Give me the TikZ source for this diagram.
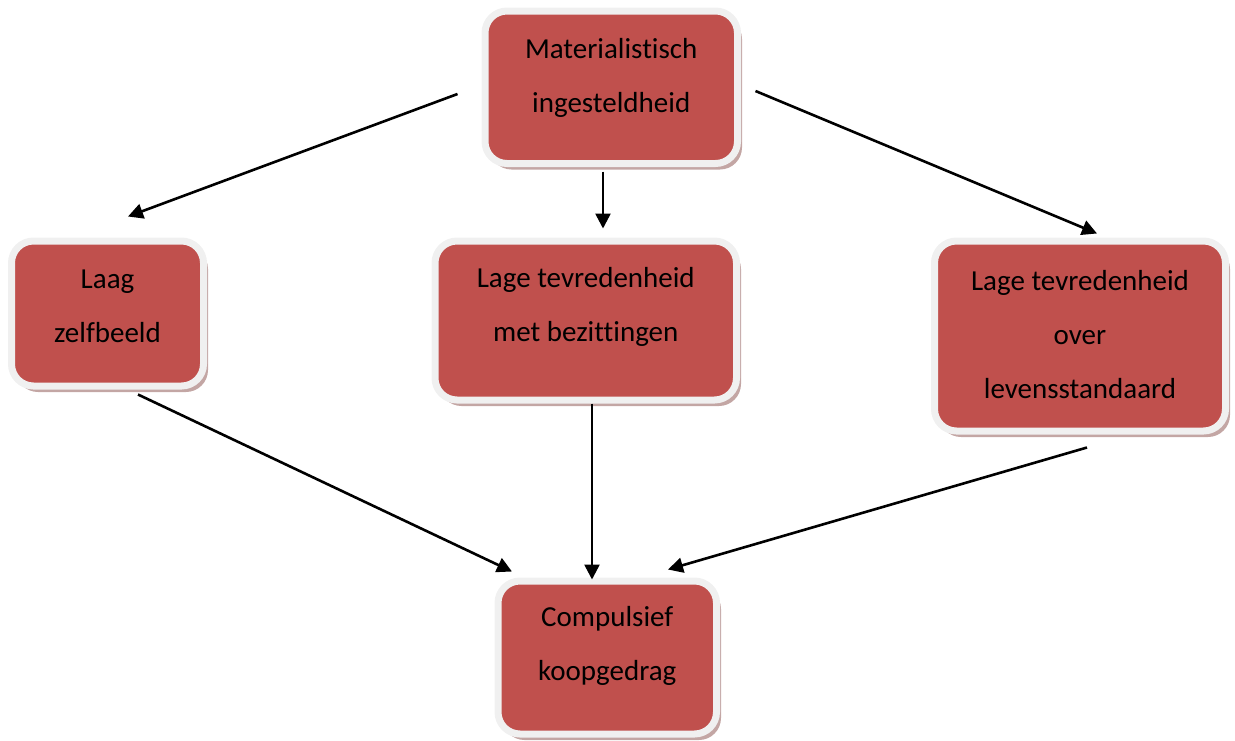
\documentclass[tikz,border=0pt]{standalone}
\usepackage{fontspec}
\setmainfont[Ligatures=NoCommon]{Carlito}
\usetikzlibrary{calc,shadows,arrows.meta}
\definecolor{boxred}{RGB}{192,80,77}
\definecolor{boxrim}{RGB}{240,240,240}
\definecolor{shadowc}{RGB}{185,150,148}
\tikzset{
  box/.style={rounded corners=22pt, fill=boxred, draw=boxrim, line width=7pt,
    inner sep=0pt,
    drop shadow={shadow xshift=4.5pt, shadow yshift=-6pt, fill=shadowc, opacity=0.85}},
  label/.style={align=center, inner sep=0pt, text=black,
    font=\fontsize{29}{54}\selectfont},
  arr/.style={line width=2.6pt, -{Triangle[length=15pt,width=15pt]}},
}
\begin{document}
\begin{tikzpicture}[x=1pt,y=-1pt]
\useasboundingbox (0,0) rectangle (1235,740);

% boxes
\node[box, minimum width=252.5pt, minimum height=152.5pt] (top) at (611.25,87.25) {};
\node[box, minimum width=192pt, minimum height=145pt] (laag) at (107.5,313.5) {};
\node[box, minimum width=301.5pt, minimum height=159pt] (mid) at (585.75,320.5) {};
\node[box, minimum width=291pt, minimum height=190pt] (right) at (1080,336) {};
\node[box, minimum width=218.5pt, minimum height=153pt] (bot) at (607.25,657.5) {};

% box texts
\node[label] (toptext) at ($(top.center)+(0,-9)$) {Materialistisch\\ingesteldheid};
\node[label] (laagtext) at ($(laag.center)+(0,-7.5)$) {Laag\\zelfbeeld};
\node[label] (midtext) at ($(mid.center)+(0,-14)$) {Lage tevredenheid\\met bezittingen};
\node[label] (righttext) at ($(right.center)+(0,-1)$) {Lage tevredenheid\\over\\levensstandaard};
\node[label] (bottext) at ($(bot.center)+(0,-11.5)$) {Compulsief\\koopgedrag};

% connectors
\draw[arr] ($(top.west)+(-24,6.75)$) -- ($(laag.north)+(20.5,-21)$);
\draw[arr] ($(top.south)+(-8.25,4.5)$) -- ($(mid.north)+(17.25,-9)$);
\draw[arr] ($(top.east)+(14.5,3.75)$) -- ($(right.north)+(17,-4)$);
\draw[arr] ($(laag.south)+(30.5,5)$) -- ($(bot.north)+(-95.25,-6)$);
\draw[arr] ($(mid.south)+(6.25,0)$) -- ($(bot.north)+(-15.25,2)$);
\draw[arr] ($(right.south)+(7,13)$) -- ($(bot.north)+(60.75,-8)$);
\end{tikzpicture}
\end{document}
